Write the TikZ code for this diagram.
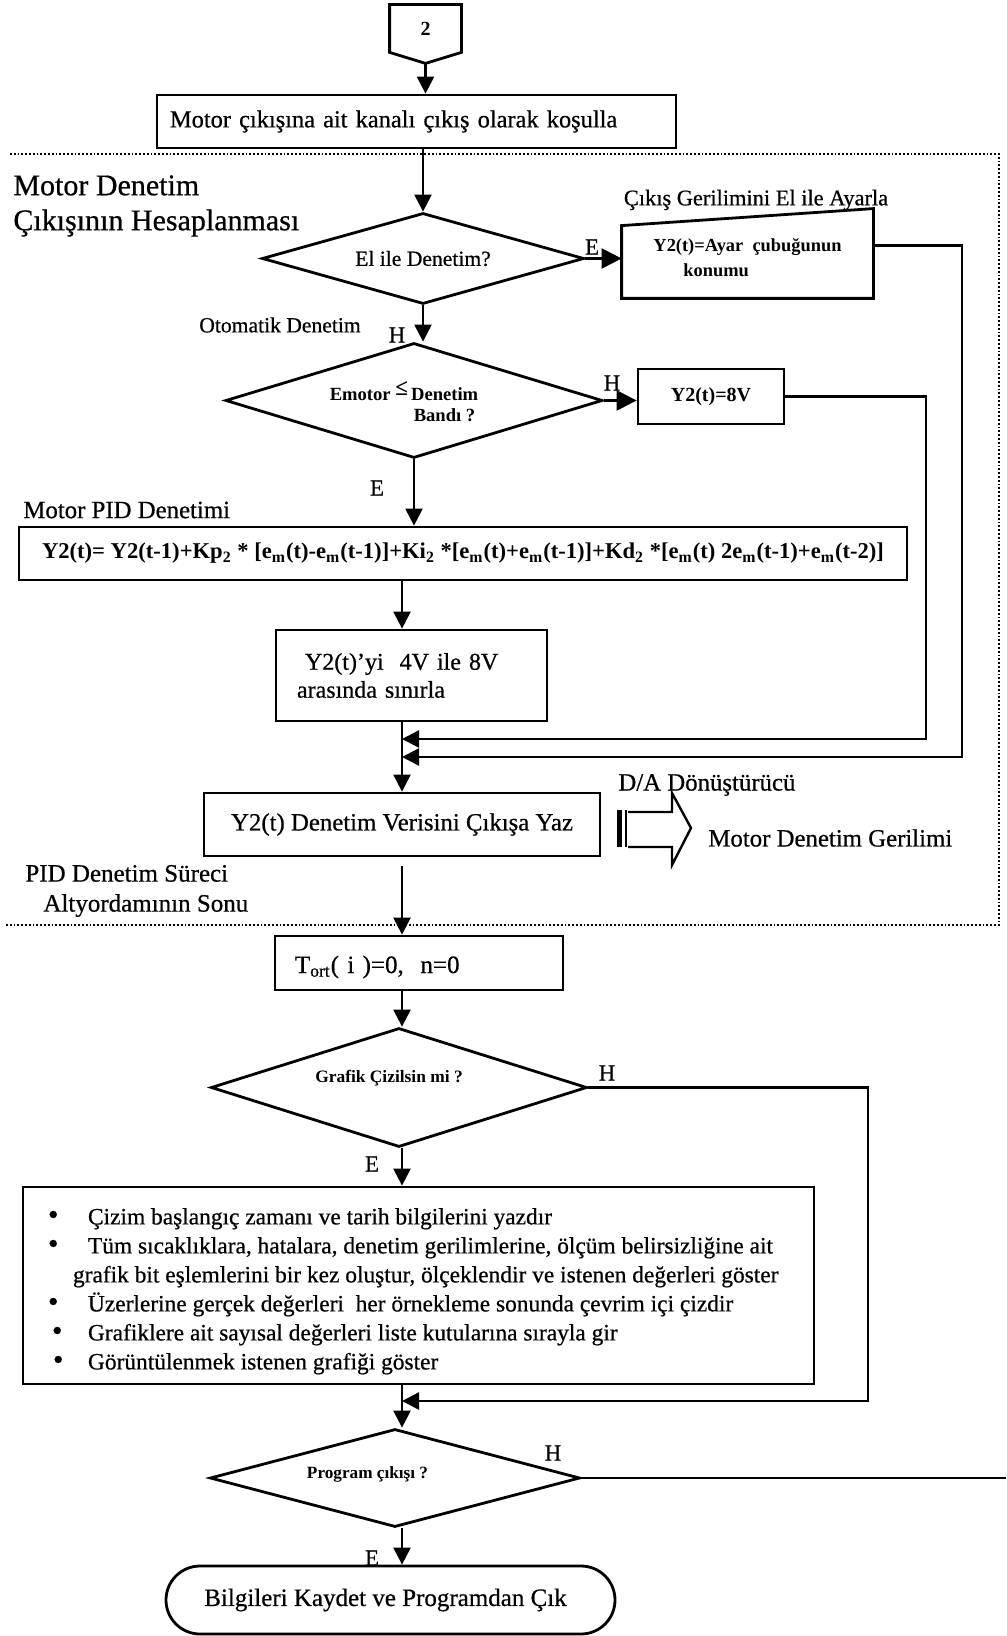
\documentclass[tikz,border=0pt]{standalone}
\usepackage{fontspec}
\setmainfont{Liberation Serif}[UprightFeatures={FakeBold=0.6}]
\usetikzlibrary{arrows.meta,shapes.geometric,calc}
\newcommand\fs[2]{\fontsize{#1}{#2}\selectfont}
\newcommand\shiftdown[2]{\raisebox{-#1}[\height][\depth]{#2}}
\begin{document}
\begin{tikzpicture}[x=0.5pt,y=-0.5pt,
  box/.style={draw, line width=1.4pt, inner sep=0pt, rectangle},
  dec/.style={draw, shape=diamond, line width=1.4pt, inner sep=0pt},
  conn/.style={line width=1.2pt},
  arr/.style={conn, -{Triangle[length=8.5pt,width=8.5pt]}},
  bigarr/.style={conn, -{Triangle[length=10pt,width=10pt]}},
  bnd/.style={line width=0.9pt, densely dotted},
  lbl/.style={inner sep=0pt, font=\fs{11.5}{14}},
]
\useasboundingbox (0,0) rectangle (1006,1636);
\fill[white] (0,0) rectangle (1006,1636);

% connector from the previous page
\node[inner sep=0pt, minimum width=35.5pt, minimum height=23.5pt, font=\fs{10}{12}\bfseries] (c2) at (425.5,28.5) {2};
\coordinate (c2tip) at ($(c2.south)+(0,11)$);
\draw[line width=1.4pt] (c2.south west) -- (c2.north west) -- (c2.north east) -- (c2.south east) -- (c2tip) -- cycle;

\node[box, minimum width=259.5pt, minimum height=26.5pt, text width=246.5pt, align=left, font=\fs{12.2}{15}] (b1) at (416.5,121.5) {Motor çıkışına ait kanalı çıkış olarak koşulla};

% subroutine frame
\coordinate (bA) at (10,154);
\coordinate (bB) at (999,154);
\coordinate (bC) at (999,925);
\coordinate (bD) at (5,925);
\draw[bnd] (bA) -- (bB) -- (bC) -- (bD);

\node[lbl, anchor=west, align=left, font=\fs{15}{17.5}] (ltitle) at (13,206) {Motor Denetim\\Çıkışının Hesaplanması};

\node[dec, shape aspect=3.54, minimum width=161pt, minimum height=45.5pt, font=\fs{10.8}{13}] (d1) at (423,258.5) {El ile Denetim?};

\node[inner sep=0pt, minimum width=125.5pt, minimum height=44.5pt, font=\fs{9.2}{12.5}\bfseries] (man) at (747.5,253.5) {\shiftdown{3pt}{\begin{tabular}{@{}l@{}}Y2(t)=Ayar\ \ çubuğunun\\\hspace*{15pt}konumu\end{tabular}}};
\draw[line width=1.4pt] (man.south west) -- ($(man.north west)+(0,17)$) -- (man.north east) -- (man.south east) -- cycle;
\node[lbl, font=\fs{11.2}{13}] (lman) at (756,200) {Çıkış Gerilimini El ile Ayarla};

\node[lbl, font=\fs{10.8}{13}] (lauto) at (280,325) {Otomatik Denetim};

\node[dec, shape aspect=3.28, minimum width=188.5pt, minimum height=57.5pt, font=\fs{9.3}{10.5}\bfseries] (d2) at (414,400.5) {\shiftdown{2pt}{\begin{tabular}{@{}l@{}}Emotor \raisebox{2.5pt}{\fs{11.5}{10}≤}\,Denetim\hspace*{10pt}\\\hspace*{42pt}Bandı ?\end{tabular}}};

\node[box, minimum width=73pt, minimum height=27.5pt, font=\fs{10}{12}\bfseries] (v8) at (711,396.5) {Y2(t)=8V};

\node[lbl, anchor=west, font=\fs{12.4}{15}] (lpid) at (23,510) {Motor PID Denetimi};

\node[box, minimum width=444pt, minimum height=26.5pt, font=\fs{11.3}{14}\bfseries] (pid) at (463,553.5) {Y2(t)= Y2(t-1)+Kp\textsubscript{2} * [e\textsubscript{m}(t)-e\textsubscript{m}(t-1)]+Ki\textsubscript{2} *[e\textsubscript{m}(t)+e\textsubscript{m}(t-1)]+Kd\textsubscript{2} *[e\textsubscript{m}(t) 2e\textsubscript{m}(t-1)+e\textsubscript{m}(t-2)]};

\node[box, minimum width=135.5pt, minimum height=45.5pt, text width=114.5pt, align=left, font=\fs{12}{14}] (lim) at (411.5,675.5) {\hspace*{4pt}Y2(t)’yi\ \ 4V ile 8V\\arasında sınırla};

\node[box, minimum width=198pt, minimum height=31.5pt, font=\fs{12.4}{15}] (wr) at (402,824.5) {Y2(t) Denetim Verisini Çıkışa Yaz};

\node[lbl, anchor=west, font=\fs{12.4}{15}] (lda) at (618,785) {D/A Dönüştürücü};
\node[lbl, anchor=west, font=\fs{12.4}{15}] (lmdg) at (708,838) {Motor Denetim Gerilimi};

% D/A output arrow
\begin{scope}[shift={(617,828)}]
  \fill (0,-18) rectangle (5,19);
  \draw[line width=1pt] (9,-18) -- (9,19);
  \draw[line width=1.2pt] (11,-16) -- (55,-16) -- (55,-35) -- (74,0) -- (55,37) -- (55,19) -- (11,19);
\end{scope}

\node[lbl, anchor=west, align=left, font=\fs{12.5}{15}] (lend) at (25,891) {PID Denetim Süreci\\\hspace*{9pt}Altyordamının Sonu};

\node[box, minimum width=144pt, minimum height=27pt, text width=124pt, align=left, font=\fs{12.5}{15}] (tb) at (419,963) {\shiftdown{2pt}{T\textsubscript{ort}( i )=0,\ \ n=0}};

\node[dec, shape aspect=3.16, minimum width=188pt, minimum height=59.5pt, font=\fs{8.7}{10}\bfseries] (d3) at (399,1087.5) {\raisebox{4.75pt}[\height][\depth]{Grafik Çizilsin mi ?}\hspace*{10pt}};

\node[box, minimum width=395.5pt, minimum height=98.5pt, font=\fs{11.7}{14.5}] (bul) at (418.5,1285.5) {\shiftdown{2.8pt}{\begin{tabular}{@{}p{370.5pt}@{}}
\mbox{\makebox[20pt][l]{\fs{15}{14.5}•}Çizim başlangıç zamanı ve tarih bilgilerini yazdır}\\
\mbox{\makebox[20pt][l]{\fs{15}{14.5}•}Tüm sıcaklıklara, hatalara, denetim gerilimlerine, ölçüm belirsizliğine ait}\\
\mbox{\hspace*{12.5pt}grafik bit eşlemlerini bir kez oluştur, ölçeklendir ve istenen değerleri göster}\\
\mbox{\makebox[20pt][l]{\fs{15}{14.5}•}Üzerlerine gerçek değerleri\ \ her örnekleme sonunda çevrim içi çizdir}\\
\mbox{\makebox[20pt][l]{\hspace*{2pt}\fs{15}{14.5}•}Grafiklere ait sayısal değerleri liste kutularına sırayla gir}\\
\mbox{\makebox[20pt][l]{\hspace*{2.5pt}\fs{15}{14.5}•}Görüntülenmek istenen grafiği göster}
\end{tabular}}};

\node[dec, shape aspect=3.78, minimum width=185pt, minimum height=49pt, font=\fs{8.6}{10}\bfseries] (d4) at (395,1478) {\raisebox{2pt}[\height][\depth]{Program çıkışı ?}\hspace*{27.5pt}};

\node[box, rounded corners=17pt, minimum width=224.5pt, minimum height=34pt, font=\fs{12.5}{15}] (term) at (390.5,1600) {Bilgileri Kaydet ve Programdan Çık\hspace*{5pt}};

% routing points
\coordinate (colL) at (402,0);
\coordinate (r8) at (926,739);
\coordinate (m8) at (402,739);
\coordinate (rm) at (962,757);
\coordinate (mm) at (402,757);
\coordinate (r3) at (868,1401);
\coordinate (m3) at (402,1401);
\coordinate (exitR) at (1006,1478);

% connectors
\draw[arr] (c2tip) -- (c2tip |- b1.north);
\draw[arr] (d1.north |- b1.south) -- (d1.north);
\draw[bigarr] (d1.east) -- (d1.east -| man.west);
\draw[arr] (d1.south) -- (d1.south |- d2.north);
\draw[bigarr] (d2.east) -- (d2.east -| v8.west);
\draw[arr] (d2.south) -- (d2.south |- pid.north);
\draw[arr] (colL |- pid.south) -- (colL |- lim.north);
\draw[arr] (colL |- lim.south) -- (colL |- wr.north);
\draw[arr] (v8.east) -| (r8) -- (m8);
\draw[arr] ([yshift=4pt]man.east) -| (rm) -- (mm);
\draw[arr, shorten <=4.5pt] (colL |- wr.south) -- (colL |- tb.north);
\draw[arr] (colL |- tb.south) -- (colL |- d3.north);
\draw[arr] (colL |- d3.south) -- (colL |- bul.north);
\draw[arr] (d3.east) -| (r3) -- (m3);
\draw[arr] (colL |- bul.south) -- (colL |- d4.north);
\draw[conn] (d4.east) -- (exitR);
\draw[arr] (colL |- d4.south) -- (colL |- term.north);

% branch labels
\node[lbl] (e1) at (592,247) {E};
\node[lbl] (h1) at (397,335) {H};
\node[lbl] (h2) at (612,383) {H};
\node[lbl] (e2) at (377,488) {E};
\node[lbl] (h3) at (607,1073) {H};
\node[lbl] (e3) at (372,1164) {E};
\node[lbl] (h4) at (553,1453) {H};
\node[lbl] (e4) at (372,1558) {E};
\end{tikzpicture}
\end{document}
